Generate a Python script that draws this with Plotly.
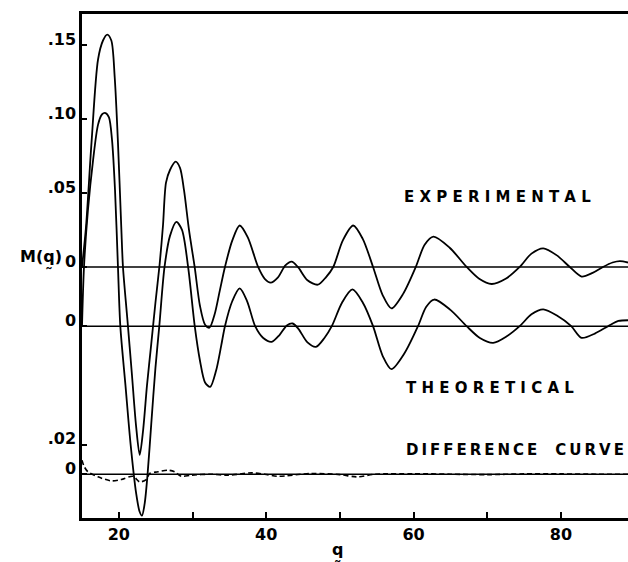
import plotly.graph_objects as go

# ---- data ----
exp_q = [15.0, 15.54, 16.29, 17.17, 17.85, 18.43, 18.98, 19.44, 19.88, 20.33, 20.56, 21.17, 21.78, 22.33, 22.83,
         23.3, 23.82, 24.4, 24.97, 25.54, 25.99, 26.4, 26.94, 27.71, 28.3, 28.84, 29.52, 30.29,
         31.0, 31.7, 32.3, 33.0, 33.7, 34.4, 35.4, 36.4, 37.5, 38.9, 39.8, 40.6, 41.6, 42.6, 43.45, 44.3,
         45.6, 47.0, 48.1, 49.1, 50.4, 51.8, 53.1, 54.5, 55.8, 57.0, 58.6, 60.3, 61.5, 62.7, 64.9, 67.2,
         68.9, 70.6, 72.5, 74.4, 76.0, 77.6, 79.4, 81.2, 82.8, 84.3, 85.7, 87.0, 88.0, 89.1]
exp_v = [0.000, 0.027, 0.084, 0.140, 0.153, 0.157, 0.153, 0.128, 0.084, 0.027, 0.000, -0.036, -0.073, -0.107, -0.127,
         -0.110, -0.080, -0.052, -0.024, 0.002, 0.028, 0.057, 0.0655, 0.0711, 0.067, 0.052, 0.025, 0.000,
         -0.026, -0.039, -0.041, -0.032, -0.016, 0.000, 0.018, 0.028, 0.020, 0.000, -0.008, -0.0106, -0.007, 0.001, 0.0036, 0.000,
         -0.009, -0.012, -0.007, 0.000, 0.018, 0.028, 0.019, 0.000, -0.019, -0.028, -0.018, 0.000, 0.015, 0.0205, 0.013, 0.000,
         -0.008, -0.0115, -0.008, 0.000, 0.009, 0.0126, 0.008, 0.000, -0.0065, -0.004, 0.000, 0.003, 0.004, 0.003]

theo_q = [15.0, 15.27, 15.8, 16.5, 17.17, 17.7, 18.2, 18.66, 19.07, 19.48, 19.88, 20.2, 20.9, 21.6, 22.35, 22.8,
          23.14, 23.5, 23.9, 24.4, 24.97, 25.49, 26.2, 26.94, 27.8, 28.57, 29.4, 30.3, 31.0, 31.7, 32.4,
          33.2, 33.9, 34.4, 35.4, 36.4, 37.4, 38.5, 39.6, 40.74, 41.8, 42.8, 43.6, 44.4, 45.6, 46.75, 47.9,
          48.9, 50.3, 51.7, 53.1, 54.5, 55.8, 57.0, 58.8, 60.6, 61.7, 62.8, 65.0, 67.2, 69.0, 70.8, 72.6,
          74.4, 76.0, 77.6, 79.5, 81.4, 82.8, 84.6, 86.4, 87.8, 89.1]
theo_v = [0.000, 0.040, 0.078, 0.112, 0.136, 0.143, 0.144, 0.141, 0.126, 0.092, 0.040, 0.000, -0.040, -0.080, -0.113, -0.125,
          -0.128, -0.120, -0.100, -0.066, -0.028, 0.000, 0.040, 0.061, 0.0705, 0.065, 0.040, 0.000, -0.023, -0.038, -0.041,
          -0.030, -0.013, 0.000, 0.017, 0.0255, 0.017, 0.000, -0.008, -0.0106, -0.006, 0.0005, 0.0018, -0.002, -0.011, -0.014, -0.008,
          0.000, 0.016, 0.0248, 0.016, 0.000, -0.020, -0.029, -0.018, 0.000, 0.013, 0.018, 0.011, 0.000, -0.008, -0.0113, -0.007,
          0.000, 0.008, 0.0113, 0.007, 0.000, -0.0079, -0.005, 0.000, 0.0035, 0.004]

diff_q = [15.0, 15.27, 15.81, 17.17, 18.98, 20.33, 21.92, 22.83, 23.72, 24.19, 25.31, 26.67, 27.58, 28.47, 29.83,
          32.4, 34.8, 38.0, 39.8, 41.6, 46.1, 50.0, 52.3, 54.8, 60.0, 65.0, 70.0, 75.0, 80.0, 85.0, 89.1]
diff_v = [0.0095, 0.0054, 0.0016, -0.0018, -0.0045, -0.0036, -0.0014, -0.0052, -0.0036, 0.0005, 0.0016, 0.0027, 0.0016, -0.0014, -0.0007,
          0.0, -0.0007, 0.0009, 0.0, -0.0014, 0.0005, -0.0003, -0.0018, 0.0, 0.0003, 0.0, -0.0003, 0.0002, 0.0002, 0.0, 0.0]

x_tick_vals = [20, 30, 40, 50, 60, 70, 80]
x_tick_text = ["20", "", "40", "", "60", "", "80"]
exp_tick_vals = [0.15, 0.10, 0.05, 0.0]
exp_tick_text = [".15", ".10", ".05", "0"]
theo_tick_vals = [0.0]
theo_tick_text = ["0"]
diff_tick_vals = [0.02, 0.0]
diff_tick_text = [".02", "0"]

# vertical offsets of the three stacked curves
EXP_OFF, THEO_OFF, DIFF_OFF = 0.0, -0.04, -0.14
XMIN, XMAX = 15.0, 89.1

FONT = "DejaVu Sans"
fig = go.Figure()

for off in (EXP_OFF, THEO_OFF, DIFF_OFF):
    fig.add_trace(go.Scatter(x=[XMIN, XMAX], y=[off, off], mode="lines",
                             line=dict(color="black", width=1.5), showlegend=False, hoverinfo="skip"))

fig.add_trace(go.Scatter(x=exp_q, y=[v + EXP_OFF for v in exp_v], mode="lines",
                         line=dict(color="black", width=1.8, shape="spline", smoothing=0.8), showlegend=False))
fig.add_trace(go.Scatter(x=theo_q, y=[v + THEO_OFF for v in theo_v], mode="lines",
                         line=dict(color="black", width=1.8, shape="spline", smoothing=0.8), showlegend=False))
fig.add_trace(go.Scatter(x=diff_q, y=[v + DIFF_OFF for v in diff_v], mode="lines",
                         line=dict(color="black", width=1.6, shape="spline", smoothing=0.8, dash="5px,3px"),
                         showlegend=False))

yvals = [v + EXP_OFF for v in exp_tick_vals] + [v + THEO_OFF for v in theo_tick_vals] + [v + DIFF_OFF for v in diff_tick_vals]
ytext = exp_tick_text + theo_tick_text + diff_tick_text

tickfont = dict(family=FONT, size=16, color="black", weight="bold")

fig.update_layout(
    width=628, height=562,
    margin=dict(l=82, r=0, t=14, b=44),
    paper_bgcolor="white", plot_bgcolor="white",
    showlegend=False,
    xaxis=dict(range=[XMIN, XMAX], tickvals=x_tick_vals, ticktext=x_tick_text, ticks="inside",
               ticklen=6, tickwidth=2, tickcolor="black", showline=True, linewidth=2.5, linecolor="black",
               mirror=True, showgrid=False, zeroline=False, tickfont=tickfont),
    yaxis=dict(range=[-0.1696, 0.1709], tickvals=yvals, ticktext=ytext, ticks="inside",
               ticklen=5, tickwidth=2, tickcolor="black", showline=True, linewidth=2.5, linecolor="black",
               showgrid=False, zeroline=False, tickfont=tickfont, ticklabelshift=-6, ticklabelstandoff=0),
)

def spaced(word, sep=" "):
    return sep.join(list(word))

lab_font = dict(family=FONT, size=15, color="black", weight="bold")
fig.add_annotation(x=58.4, y=0.0473, xref="x", yref="y", text=spaced("EXPERIMENTAL"), showarrow=False,
                   xanchor="left", yanchor="middle", font=lab_font)
fig.add_annotation(x=58.7, y=-0.0818, xref="x", yref="y", text=spaced("THEORETICAL"), showarrow=False,
                   xanchor="left", yanchor="middle", font=lab_font)
fig.add_annotation(x=58.7, y=-0.1236, xref="x", yref="y",
                   text=spaced("DIFFERENCE", "\u2009") + "\u2002\u2002\u2009" + spaced("CURVE", "\u2009"),
                   showarrow=False, xanchor="left", yanchor="middle", font=lab_font)
# y-axis name, left of the experimental zero label
fig.add_annotation(x=0, y=0.0, xref="paper", yref="y", text="M(q\u0330)", showarrow=False,
                   xanchor="right", yanchor="middle", xshift=-18, yshift=8, font=tickfont)
# x-axis name
fig.add_annotation(x=49.7, y=0, xref="x", yref="paper", text="q\u0330", showarrow=False,
                   xanchor="center", yanchor="top", yshift=-20, font=tickfont)

fig.write_html("out.html")
